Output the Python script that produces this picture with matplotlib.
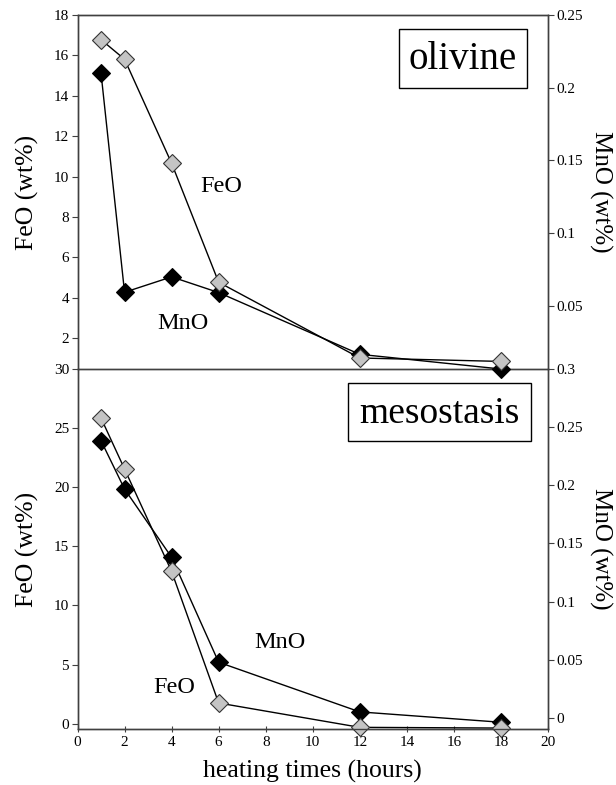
import matplotlib
matplotlib.use("Agg")
import matplotlib.pyplot as plt
from matplotlib.patches import Rectangle
import numpy as np

plt.rcParams['font.family'] = ['Liberation Serif', 'DejaVu Serif']

# heating times (hours)
hours = [1, 2, 4, 6, 12, 18]

# olivine
oliv_feo = [16.78, 15.81, 10.66, 4.77, 1.02, 0.85]
oliv_mno = [0.210, 0.0592, 0.0698, 0.0590, 0.0165, 0.0064]

# mesostasis
meso_feo = [25.85, 21.54, 12.88, 1.75, -0.31, -0.37]
meso_mno = [0.2384, 0.1968, 0.1381, 0.0479, 0.0052, -0.0037]

x_ticks = list(range(0, 21, 2))
feo_ticks_top = [2, 4, 6, 8, 10, 12, 14, 16, 18]
mno_ticks_top = [0.05, 0.1, 0.15, 0.2, 0.25]
feo_ticks_bot = [0, 5, 10, 15, 20, 25, 30]
mno_ticks_bot = [0, 0.05, 0.1, 0.15, 0.2, 0.25, 0.3]

fig = plt.figure(figsize=(6.16, 7.85), dpi=100)
fig.patch.set_facecolor('white')

L, W = 77.5 / 616, 470.5 / 616
top_ax = fig.add_axes([L, 1 - 369 / 785, W, (369 - 15) / 785])
bot_ax = fig.add_axes([L, 1 - 729 / 785, W, (729 - 369) / 785])

spine_c = '#404040'
gray = '#c4c4c4'


def fmt(v):
    s = ('%.2f' % v).rstrip('0').rstrip('.')
    return s


def panel(ax, feo, mno, feo_lim, mno_lim, feo_ticks, mno_ticks):
    ax2 = ax.twinx()
    ax.set_zorder(ax2.get_zorder() + 1)
    ax.patch.set_visible(False)
    ax2.patch.set_visible(False)
    ax2.plot(hours, mno, '-', color='black', lw=1.0, marker='D', ms=9,
             mfc='black', mec='black', mew=0.8, clip_on=False)
    ax.plot(hours, feo, '-', color='black', lw=1.0, marker='D', ms=9,
            mfc=gray, mec='#333333', mew=0.8, clip_on=False)
    ax.set_xlim(0, 20)
    ax.set_ylim(*feo_lim)
    ax2.set_ylim(*mno_lim)
    ax.set_yticks(feo_ticks)
    ax.set_yticklabels([str(t) for t in feo_ticks])
    ax2.set_yticks(mno_ticks)
    ax2.set_yticklabels([fmt(t) for t in mno_ticks])
    for a in (ax, ax2):
        for s in a.spines.values():
            s.set_color(spine_c)
            s.set_linewidth(1.0)
        a.tick_params(axis='y', direction='out', length=4, width=0.8,
                      colors=spine_c, labelcolor='black', labelsize=11, pad=2)
    ax.set_ylabel('FeO (wt%)', fontsize=18.5, labelpad=11)
    ax2.set_ylabel('MnO (wt%)', fontsize=18, rotation=270, labelpad=21)
    return ax2


top_ax2 = panel(top_ax, oliv_feo, oliv_mno, (0.475, 18), (0.0064, 0.25),
                feo_ticks_top, mno_ticks_top)
top_ax.set_xticks([])
top_ax.spines['bottom'].set_visible(False)
top_ax2.spines['bottom'].set_visible(False)
top_ax.set_zorder(10)
top_ax2.set_zorder(9)

bot_ax2 = panel(bot_ax, meso_feo, meso_mno, (-0.45, 30), (-0.0095, 0.3),
                feo_ticks_bot, mno_ticks_bot)
bot_ax.set_xticks(x_ticks)
bot_ax.set_xticklabels([str(t) for t in x_ticks])
bot_ax.tick_params(axis='x', direction='inout', length=4, width=0.8,
                   colors=spine_c, labelcolor='black', labelsize=11, pad=3)
bot_ax.set_xlabel('heating times (hours)', fontsize=18.5, labelpad=8)

# series labels
top_ax.text(6.1, 9.5, 'FeO', fontsize=17.5, ha='center', va='center')
top_ax.text(4.5, 2.75, 'MnO', fontsize=17.5, ha='center', va='center')
bot_ax.text(8.6, 6.85, 'MnO', fontsize=17.5, ha='center', va='center')
bot_ax.text(4.1, 3.05, 'FeO', fontsize=17.5, ha='center', va='center')

# sample boxes
top_ax.add_patch(Rectangle((0.683, 0.794), 0.272, 0.167, transform=top_ax.transAxes,
                           fill=False, ec='black', lw=1.0))
top_ax.text(0.819, 0.874, 'olivine', transform=top_ax.transAxes, fontsize=28,
            ha='center', va='center')
bot_ax.add_patch(Rectangle((0.575, 0.801), 0.389, 0.160, transform=bot_ax.transAxes,
                           fill=False, ec='black', lw=1.0))
bot_ax.text(0.77, 0.877, 'mesostasis', transform=bot_ax.transAxes, fontsize=27,
            ha='center', va='center')

plt.savefig('out.png', dpi=100, facecolor='white')
